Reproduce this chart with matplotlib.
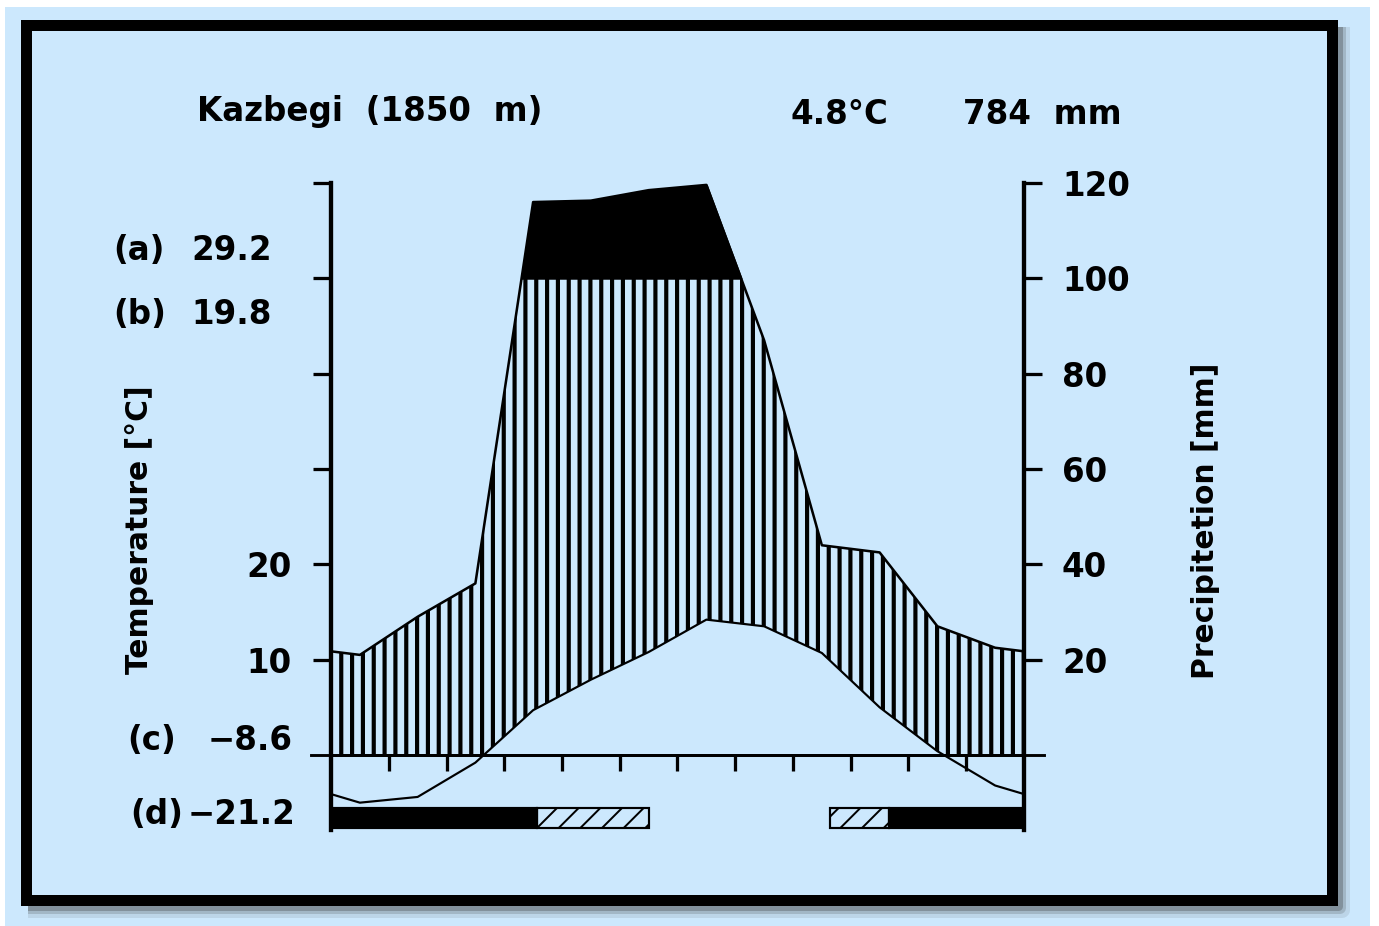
import numpy as np
import matplotlib
matplotlib.use("Agg")
import matplotlib.pyplot as plt
from matplotlib.patches import Rectangle
from matplotlib.lines import Line2D

# ---------------- data ----------------
months = np.arange(12) + 0.5                      # month centres (Jan..Dec)
temperature = np.array([-5.0, -4.4, -0.8, 4.7, 7.9, 10.8, 14.2, 13.5, 10.7, 5.0, 0.4, -3.2])   # deg C
precipitation = np.array([21.0, 29.0, 36.0, 116.0, 116.3, 118.5, 119.6, 87.0, 44.0, 42.5, 27.0, 22.5])  # mm
temp_ticks = [10, 20, 30, 40, 50, 60]
temp_ticklabels = ["10", "20", "", "", "", ""]
prec_ticks = [20, 40, 60, 80, 100, 120]
prec_ticklabels = ["20", "40", "60", "80", "100", "120"]
month_bounds = np.arange(1, 12)
frost_black = [(0.0, 3.57), (9.66, 12.0)]        # months with frost (solid)
frost_hatched = [(3.57, 5.51), (8.64, 9.66)]     # months with possible frost
station = "Kazbegi  (1850  m)"
mean_temp = "4.8°C"
annual_prec = "784  mm"
side_labels = [("(a)", "29.2"), ("(b)", "19.8"), ("(c)", "\u22128.6"), ("(d)", "\u221221.2")]

# ---------------- figure ----------------
W, H, DPI = 1379, 926, 130
plt.rcParams["hatch.linewidth"] = 2.3
fig = plt.figure(figsize=(W / DPI, H / DPI), dpi=DPI)
fig.patch.set_facecolor("white")
BG = "#CCE8FD"
FONT = "DejaVu Sans"

def fx(x):
    return x / W

def fy(y):
    return 1 - y / H

# light blue panel
fig.patches.append(Rectangle((fx(5), 0), fx(1370) - fx(5), fy(7), transform=fig.transFigure,
                             facecolor=BG, edgecolor="none", zorder=-5))
# shadow (right and bottom only)
for off, a, lw in [(10, 0.10, 16), (8, 0.18, 12), (6, 0.28, 9)]:
    fig.lines.append(Line2D([fx(1331.5 + off), fx(1331.5 + off), fx(26 + off)],
                            [fy(25 + off), fy(900 + off), fy(900 + off)],
                            transform=fig.transFigure, color="#303030", alpha=a,
                            lw=lw * 72 / DPI, zorder=-4))
# frame
fig.patches.append(Rectangle((fx(26), fy(900)), (1331.5 - 26) / W, (900 - 25) / H,
                             transform=fig.transFigure, fill=False, edgecolor="black",
                             lw=11 * 72 / DPI, joinstyle="miter", zorder=-3))

# axes: x in months, y in precipitation units (10 degC == 20 mm)
L, R, T, B = 331, 1024, 183, 830
ax = fig.add_axes([fx(L), fy(B), (R - L) / W, (B - T) / H])
ax.set_facecolor("none")
ax.set_zorder(3)
ymax = 120.0
ymin = -ymax * (B - 755) / (755 - T)
ax.set_xlim(0, 12)
ax.set_ylim(ymin, ymax)

# temperature axis on the left
axT = ax.twinx()
axT.set_zorder(2)
axT.patch.set_visible(False)
axT.set_ylim(ymin / 2, ymax / 2)
axT.yaxis.tick_left()
axT.set_yticks(temp_ticks)
axT.set_yticklabels(temp_ticklabels, fontfamily=FONT, fontweight="bold", fontsize=18)
axT.tick_params(axis="y", which="both", left=True, right=False, labelleft=True, labelright=False,
                direction="out", length=10, width=1.8, pad=12)
for sp in axT.spines.values():
    sp.set_visible(False)
axT.set_xticks([])

# fine grid for fills (wrap-around edges)
x_ext = np.concatenate([[0.0], months, [12.0]])
edge_t = (temperature[0] + temperature[-1]) / 2
edge_p = (precipitation[0] + precipitation[-1]) / 2
t_ext = np.concatenate([[edge_t], temperature, [edge_t]]) * 2.0
p_ext = np.concatenate([[edge_p], precipitation, [edge_p]])
xf = np.linspace(0, 12, 2401)
tf = np.interp(xf, x_ext, t_ext)
pf = np.interp(xf, x_ext, p_ext)

hum = ax.fill_between(xf, np.maximum(tf, 0), np.minimum(pf, 100), where=pf >= np.maximum(tf, 0),
                      facecolor="none", edgecolor="black", hatch="||", linewidth=0, zorder=2)
if hasattr(hum, "set_hatch_linewidth"):
    hum.set_hatch_linewidth(2.3)
ax.fill_between(xf, 100, pf, where=pf > 100, interpolate=True, facecolor="black",
                edgecolor="black", linewidth=1.0, zorder=3)
ax.plot(x_ext, p_ext, color="black", lw=1.4, zorder=4, solid_joinstyle="round")
ax.plot(x_ext, t_ext, color="black", lw=1.2, zorder=4, solid_joinstyle="round")

# zero line extending beyond the axes
ext = 20 / ((R - L) / 12)
ax.plot([0 - ext, 12 + ext], [0, 0], color="black", lw=1.6, clip_on=False, zorder=5)

# frost bars
bar_lo = ymin * (828 - 755) / (B - 755)
bar_hi = ymin * (808 - 755) / (B - 755)
for s, e in frost_black:
    ax.add_patch(Rectangle((s, bar_lo), e - s, bar_hi - bar_lo, facecolor="black",
                           edgecolor="black", lw=1.2, clip_on=False, zorder=5))
for s, e in frost_hatched:
    p = ax.add_patch(Rectangle((s, bar_lo), e - s, bar_hi - bar_lo, facecolor="none",
                               edgecolor="black", hatch="//", lw=1.2, clip_on=False, zorder=5))
    if hasattr(p, "set_hatch_linewidth"):
        p.set_hatch_linewidth(1.1)

# spines and ticks
ax.spines["top"].set_visible(False)
ax.spines["bottom"].set_position(("data", 0))
ax.spines["bottom"].set_linewidth(1.6)
for sp in ["left", "right"]:
    ax.spines[sp].set_linewidth(2.4)
ax.set_xticks(month_bounds)
ax.set_xticklabels([])
ax.tick_params(axis="x", direction="out", length=9, width=1.8)

ax.set_yticks(prec_ticks)
ax.set_yticklabels(prec_ticklabels, fontfamily=FONT, fontweight="bold", fontsize=18)
ax.tick_params(axis="y", left=False, right=True, labelleft=False, labelright=True,
               direction="out", length=10, width=1.8, pad=11)

# texts
tk = dict(fontfamily=FONT, fontweight="bold", fontsize=18, va="center")
fig.text(fx(197), fy(112), station, ha="left", **tk)
fig.text(fx(790), fy(114), mean_temp, ha="left", **tk)
fig.text(fx(963), fy(114), annual_prec, ha="left", **tk)

lab_pos = [(113, 272, 251), (113, 272, 314), (127, 293, 740), (130, 295, 815)]
for (tag, val), (xl, xr, yy) in zip(side_labels, lab_pos):
    fig.text(fx(xl), fy(yy), tag, ha="left", **tk)
    fig.text(fx(xr), fy(yy), val, ha="right", **tk)

lk = dict(tk, fontsize=16.5)
fig.text(fx(140), fy(530), "Temperature [°C]", rotation=90, ha="center", **lk)
fig.text(fx(1205), fy(521), "Precipitetion [mm]", rotation=90, ha="center", **lk)

fig.savefig("out.png", dpi=DPI, facecolor=fig.get_facecolor())
